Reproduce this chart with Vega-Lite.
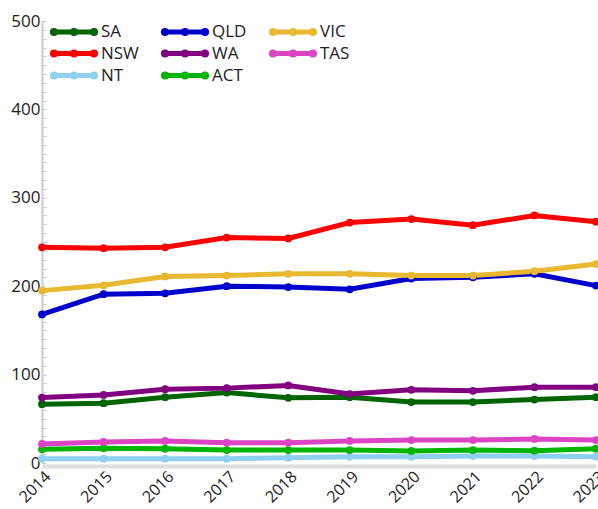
{
  "$schema": "https://vega.github.io/schema/vega-lite/v6.json",
  "width": 554,
  "height": 442,
  "autosize": {"type": "none"},
  "padding": {"left": 42, "top": 21, "right": 2, "bottom": 46},
  "background": "white",
  "config": {"view": {"stroke": null}, "font": "Open Sans"},
  "data": {"values": [
    {"year": 2014, "state": "SA", "value": 66.5}, {"year": 2015, "state": "SA", "value": 67.6}, {"year": 2016, "state": "SA", "value": 74.5}, {"year": 2017, "state": "SA", "value": 79.7}, {"year": 2018, "state": "SA", "value": 73.7}, {"year": 2019, "state": "SA", "value": 74.5}, {"year": 2020, "state": "SA", "value": 69}, {"year": 2021, "state": "SA", "value": 69}, {"year": 2022, "state": "SA", "value": 71.8}, {"year": 2023, "state": "SA", "value": 74.5},
    {"year": 2014, "state": "NSW", "value": 244}, {"year": 2015, "state": "NSW", "value": 243}, {"year": 2016, "state": "NSW", "value": 244}, {"year": 2017, "state": "NSW", "value": 255}, {"year": 2018, "state": "NSW", "value": 254}, {"year": 2019, "state": "NSW", "value": 272}, {"year": 2020, "state": "NSW", "value": 276}, {"year": 2021, "state": "NSW", "value": 269}, {"year": 2022, "state": "NSW", "value": 280}, {"year": 2023, "state": "NSW", "value": 273},
    {"year": 2014, "state": "NT", "value": 4.9}, {"year": 2015, "state": "NT", "value": 4.9}, {"year": 2016, "state": "NT", "value": 4.9}, {"year": 2017, "state": "NT", "value": 4.9}, {"year": 2018, "state": "NT", "value": 6}, {"year": 2019, "state": "NT", "value": 7.1}, {"year": 2020, "state": "NT", "value": 7.1}, {"year": 2021, "state": "NT", "value": 7.9}, {"year": 2022, "state": "NT", "value": 7.9}, {"year": 2023, "state": "NT", "value": 7.1},
    {"year": 2014, "state": "QLD", "value": 168}, {"year": 2015, "state": "QLD", "value": 191}, {"year": 2016, "state": "QLD", "value": 192}, {"year": 2017, "state": "QLD", "value": 200}, {"year": 2018, "state": "QLD", "value": 199}, {"year": 2019, "state": "QLD", "value": 196.5}, {"year": 2020, "state": "QLD", "value": 208.6}, {"year": 2021, "state": "QLD", "value": 210}, {"year": 2022, "state": "QLD", "value": 214}, {"year": 2023, "state": "QLD", "value": 200.7},
    {"year": 2014, "state": "WA", "value": 74}, {"year": 2015, "state": "WA", "value": 77}, {"year": 2016, "state": "WA", "value": 83.5}, {"year": 2017, "state": "WA", "value": 84.7}, {"year": 2018, "state": "WA", "value": 87.7}, {"year": 2019, "state": "WA", "value": 78}, {"year": 2020, "state": "WA", "value": 82.8}, {"year": 2021, "state": "WA", "value": 81.6}, {"year": 2022, "state": "WA", "value": 85.8}, {"year": 2023, "state": "WA", "value": 85.8},
    {"year": 2014, "state": "ACT", "value": 15.5}, {"year": 2015, "state": "ACT", "value": 16.7}, {"year": 2016, "state": "ACT", "value": 16.2}, {"year": 2017, "state": "ACT", "value": 14.7}, {"year": 2018, "state": "ACT", "value": 14.7}, {"year": 2019, "state": "ACT", "value": 14.7}, {"year": 2020, "state": "ACT", "value": 13.6}, {"year": 2021, "state": "ACT", "value": 14.7}, {"year": 2022, "state": "ACT", "value": 13.9}, {"year": 2023, "state": "ACT", "value": 16.2},
    {"year": 2014, "state": "VIC", "value": 195}, {"year": 2015, "state": "VIC", "value": 201}, {"year": 2016, "state": "VIC", "value": 211}, {"year": 2017, "state": "VIC", "value": 212}, {"year": 2018, "state": "VIC", "value": 214}, {"year": 2019, "state": "VIC", "value": 214}, {"year": 2020, "state": "VIC", "value": 212}, {"year": 2021, "state": "VIC", "value": 212}, {"year": 2022, "state": "VIC", "value": 217}, {"year": 2023, "state": "VIC", "value": 225},
    {"year": 2014, "state": "TAS", "value": 21.5}, {"year": 2015, "state": "TAS", "value": 23.8}, {"year": 2016, "state": "TAS", "value": 24.9}, {"year": 2017, "state": "TAS", "value": 23}, {"year": 2018, "state": "TAS", "value": 23}, {"year": 2019, "state": "TAS", "value": 24.9}, {"year": 2020, "state": "TAS", "value": 26}, {"year": 2021, "state": "TAS", "value": 26}, {"year": 2022, "state": "TAS", "value": 27.2}, {"year": 2023, "state": "TAS", "value": 26}
  ]},
  "mark": {"type": "line", "strokeWidth": 5, "point": {"filled": true, "size": 60}},
  "encoding": {
    "x": {"field": "year", "type": "quantitative",
      "scale": {"domain": [2014, 2023], "nice": false, "zero": false},
      "axis": {"title": null, "values": [2014, 2015, 2016, 2017, 2018, 2019, 2020, 2021, 2022, 2023], "format": "d",
        "grid": false, "ticks": false, "domainColor": "#dddddd", "domainWidth": 4, "offset": 3,
        "labelAngle": -45, "labelFontSize": 16, "labelColor": "#222222", "labelPadding": 2, "labelFlush": false}},
    "y": {"field": "value", "type": "quantitative",
      "scale": {"domain": [0, 500], "nice": false},
      "axis": {"title": null, "values": [0,10,20,30,40,50,60,70,80,90,100,110,120,130,140,150,160,170,180,190,200,210,220,230,240,250,260,270,280,290,300,310,320,330,340,350,360,370,380,390,400,410,420,430,440,450,460,470,480,490,500],
        "labelExpr": "datum.value % 100 === 0 ? datum.label : ''",
        "grid": false, "domainColor": "#cccccc", "domainWidth": 2, "tickColor": "#cccccc", "tickSize": -4, "tickWidth": 1,
        "labelFontSize": 17, "labelColor": "#222222", "labelPadding": 6, "labelFlush": false}},
    "color": {"field": "state", "type": "nominal",
      "scale": {"domain": ["SA", "NSW", "NT", "QLD", "WA", "ACT", "VIC", "TAS"],
        "range": ["#006400", "#ff0000", "#8fd0f0", "#0000cd", "#800080", "#00b400", "#e8b830", "#dd44c4"]},
      "legend": {"title": null, "orient": "none", "legendX": 10, "legendY": 2, "columns": 3, "columnPadding": 14, "rowPadding": -3,
        "symbolType": "M-4.5,0H4.5M-4.85,0a0.35,0.35 0 1,0 0.7,0a0.35,0.35 0 1,0 -0.7,0M-0.35,0a0.35,0.35 0 1,0 0.7,0a0.35,0.35 0 1,0 -0.7,0M4.15,0a0.35,0.35 0 1,0 0.7,0a0.35,0.35 0 1,0 -0.7,0",
        "symbolSize": 79, "symbolStrokeWidth": 5, "labelFontSize": 17, "labelColor": "#222222", "labelOffset": 32,
        "encode": {"symbols": {"update": {"x": {"value": 22}}}}}}
  }
}
